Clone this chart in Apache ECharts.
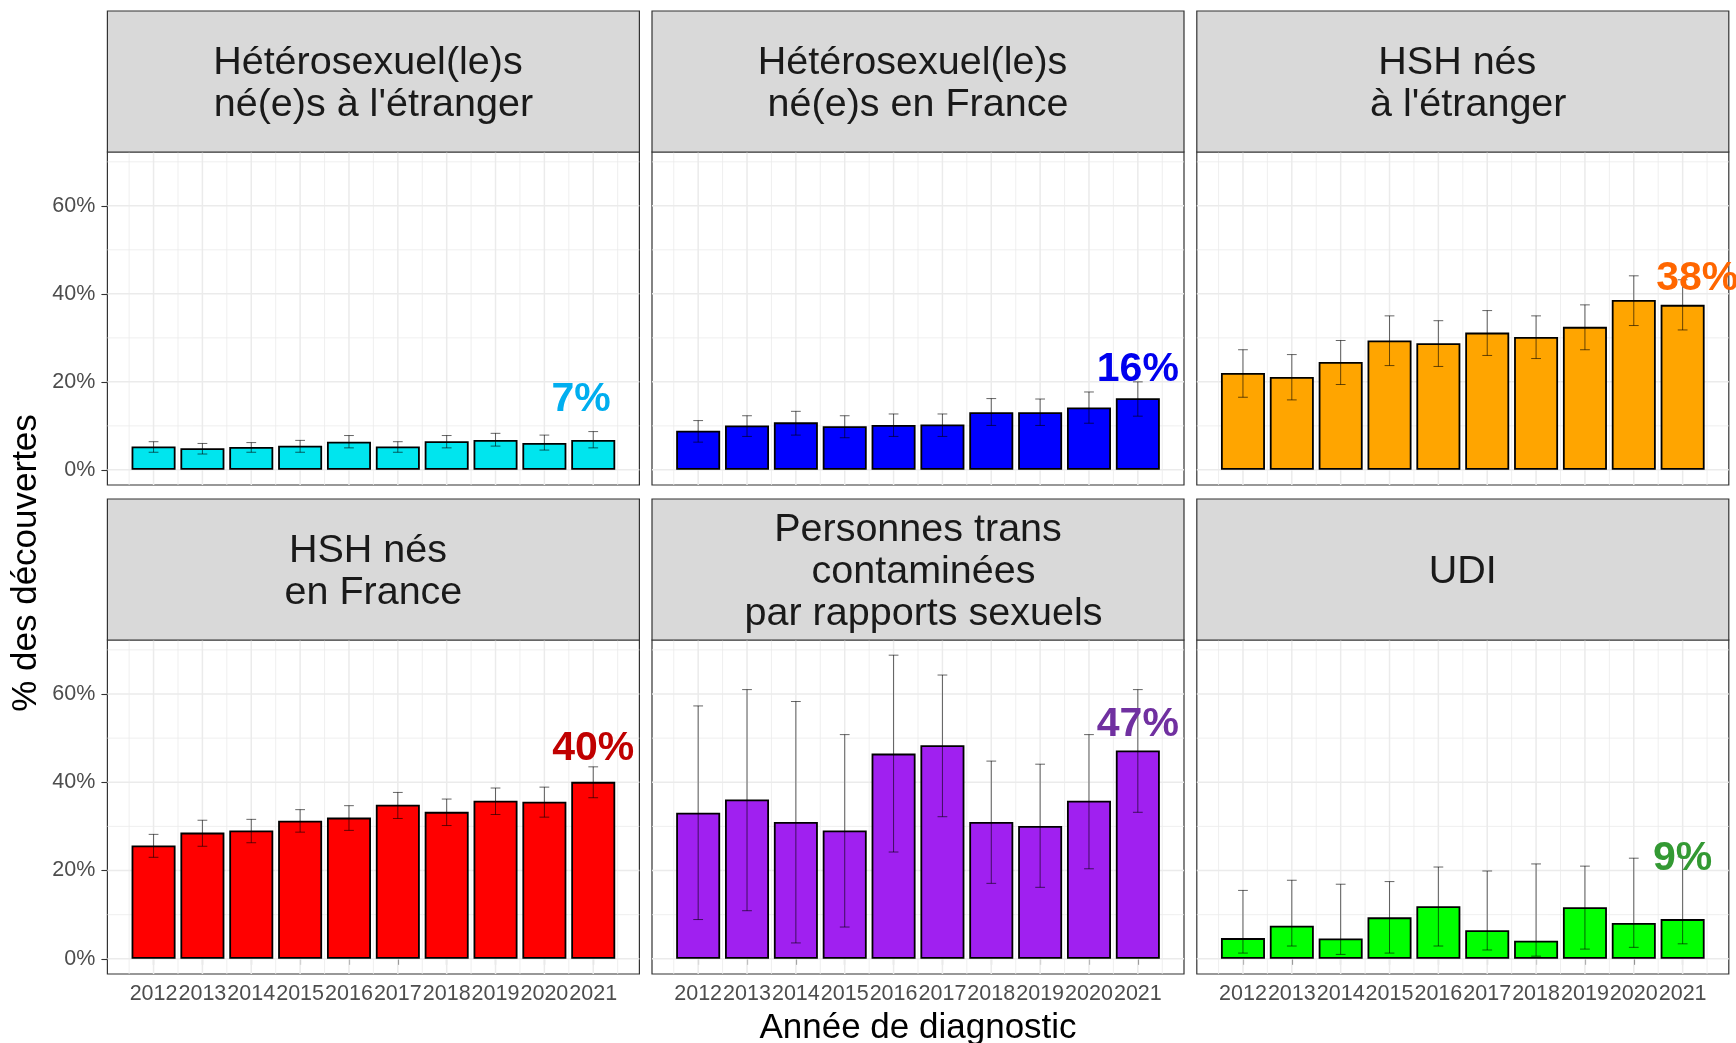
<!DOCTYPE html>
<html>
<head>
<meta charset="utf-8">
<script src="https://cdn.jsdelivr.net/npm/echarts@6/dist/echarts.min.js"></script>
<style>
  html, body { margin: 0; padding: 0; background: #fff; }
  #chart { width: 1736px; height: 1043px; }
</style>
</head>
<body>
<div id="chart"></div>
<script>
// années de diagnostic
const years = [2012, 2013, 2014, 2015, 2016, 2017, 2018, 2019, 2020, 2021];

// titres des facettes
const groups = [
  "Hétérosexuel(le)s \nné(e)s à l'étranger",
  "Hétérosexuel(le)s \nné(e)s en France",
  "HSH nés \n à l'étranger",
  "HSH nés \nen France",
  "Personnes trans\n contaminées\n par rapports sexuels",
  "UDI",
];

// % des découvertes (et IC)
const heteroEtranger = [5.3, 4.9, 5.2, 5.5, 6.4, 5.3, 6.5, 6.8, 6.1, 6.8];
const heteroEtrangerLow = [4.0, 3.6, 4.0, 4.0, 5.0, 4.0, 5.0, 5.4, 4.5, 5.0];
const heteroEtrangerHigh = [6.4, 6.0, 6.2, 6.7, 7.8, 6.4, 7.8, 8.3, 7.9, 8.7];

const heteroFrance = [8.9, 10.1, 10.8, 9.9, 10.2, 10.3, 13.1, 13.1, 14.2, 16.3];
const heteroFranceLow = [6.3, 7.6, 7.9, 7.3, 7.6, 7.6, 10.1, 10.1, 10.6, 12.2];
const heteroFranceHigh = [11.2, 12.3, 13.3, 12.3, 12.7, 12.7, 16.2, 16.1, 17.7, 20.0];

const hshEtranger = [22.0, 21.1, 24.5, 29.4, 28.8, 31.2, 30.2, 32.5, 38.6, 37.5];
const hshEtrangerLow = [16.5, 15.9, 19.4, 23.7, 23.5, 26.0, 25.3, 27.3, 32.8, 31.8];
const hshEtrangerHigh = [27.3, 26.2, 29.4, 35.0, 33.9, 36.2, 35.0, 37.5, 44.1, 43.2];

const hshFrance = [25.7, 28.6, 29.1, 31.3, 32.0, 34.9, 33.3, 35.8, 35.6, 40.1];
const hshFranceLow = [23.0, 25.5, 26.3, 28.7, 29.1, 31.8, 30.2, 32.7, 32.1, 36.5];
const hshFranceHigh = [28.2, 31.4, 31.6, 33.8, 34.7, 37.7, 36.2, 38.7, 38.9, 43.5];

const trans = [33.1, 36.1, 31.0, 29.1, 46.5, 48.4, 31.0, 30.1, 35.8, 47.2];
const transLow = [8.9, 10.9, 3.6, 7.2, 24.2, 32.2, 17.1, 16.2, 20.4, 33.2];
const transHigh = [57.3, 61.0, 58.3, 50.8, 68.8, 64.3, 44.8, 44.1, 50.8, 61.0];

const udi = [4.7, 7.5, 4.6, 9.4, 11.9, 6.5, 4.1, 11.7, 8.1, 9.0];
const udiLow = [1.3, 2.9, 1.0, 1.3, 2.9, 2.0, 0.6, 2.2, 2.6, 3.4];
const udiHigh = [15.5, 17.8, 16.9, 17.5, 20.8, 19.9, 21.5, 21.0, 22.8, 23.1];

// étiquette 2021 de chaque facette
const labelText = ['7%', '16%', '38%', '40%', '47%', '9%'];
const labelYear = [2020.75, 2021, 2021.3, 2021, 2021, 2021];
const labelValue = [15.9, 22.7, 43.4, 47.5, 53.1, 22.7];

// graduations
const yTicks = [0, 20, 40, 60];
const yMinor = [10, 30, 50, 70];
const xMinor = [2011.5, 2012.5, 2013.5, 2014.5, 2015.5, 2016.5, 2017.5, 2018.5, 2019.5, 2020.5, 2021.5];

const values = [heteroEtranger, heteroFrance, hshEtranger, hshFrance, trans, udi];
const lows = [heteroEtrangerLow, heteroFranceLow, hshEtrangerLow, hshFranceLow, transLow, udiLow];
const highs = [heteroEtrangerHigh, heteroFranceHigh, hshEtrangerHigh, hshFranceHigh, transHigh, udiHigh];

const barColors = ['#00E5EE', '#0000FF', '#FFA500', '#FF0000', '#A020F0', '#00FF00'];
const labelColors = ['#00AEEF', '#0000EE', '#FF6600', '#C00000', '#7030A0', '#339933'];

const FONT = '"Liberation Sans", Arial, sans-serif';
const colLeft = [107.4, 652, 1196.8];
const panelW = 532;
const rowTop = [152, 640];
const rowH = [333, 334];
const stripTop = [11, 499];
const stripH = 141;

const chart = echarts.init(document.getElementById('chart'), null, { renderer: 'canvas' });

const grid = [], xAxis = [], yAxis = [], series = [], graphic = [];

groups.forEach((g, i) => {
  const col = i % 3, row = Math.floor(i / 3);
  grid.push({
    left: colLeft[col], top: rowTop[row], width: panelW, height: rowH[row],
    show: true, backgroundColor: '#fff', borderColor: '#333', borderWidth: 1.2,
  });
  xAxis.push({
    type: 'value', gridIndex: i, min: 2011.055, max: 2021.945,
    axisLine: { show: false },
    splitLine: { show: false },
    axisTick: {
      show: row === 1, customValues: years, length: 6,
      lineStyle: { color: '#333', width: 1.1 },
    },
    axisLabel: {
      show: row === 1, customValues: years, margin: 9,
      color: '#4D4D4D', fontSize: 21.5, fontFamily: FONT,
      formatter: v => String(v),
    },
  });
  yAxis.push({
    type: 'value', gridIndex: i, min: -3.44, max: 72.24,
    axisLine: { show: false },
    splitLine: { show: false },
    axisTick: {
      show: col === 0, customValues: yTicks, length: 6,
      lineStyle: { color: '#333', width: 1.1 },
    },
    axisLabel: {
      show: col === 0, customValues: yTicks, margin: 12,
      color: '#4D4D4D', fontSize: 21.5, fontFamily: FONT,
      formatter: v => v + '%',
    },
  });

  // grille (majeure / mineure)
  const lines = [];
  years.forEach(y => lines.push([y, 0, 0]));
  xMinor.forEach(y => lines.push([y, 0, 1]));
  yTicks.forEach(v => lines.push([2016, v, 2]));
  yMinor.forEach(v => lines.push([2016, v, 3]));
  series.push({
    type: 'custom', xAxisIndex: i, yAxisIndex: i, z: 1, silent: true,
    data: lines,
    renderItem: (params, api) => {
      const cs = params.coordSys;
      const kind = api.value(2);
      const major = kind === 0 || kind === 2;
      let shape;
      if (kind < 2) {
        const p = api.coord([api.value(0), 0]);
        shape = { x1: p[0], y1: cs.y, x2: p[0], y2: cs.y + cs.height };
      } else {
        const p = api.coord([2016, api.value(1)]);
        shape = { x1: cs.x, y1: p[1], x2: cs.x + cs.width, y2: p[1] };
      }
      return {
        type: 'line', shape,
        style: { stroke: '#EBEBEB', lineWidth: major ? 1.5 : 0.8 },
      };
    },
  });

  series.push({
    type: 'bar', xAxisIndex: i, yAxisIndex: i, z: 2,
    barWidth: 44,
    data: years.map((y, k) => [y, values[i][k]]),
    itemStyle: { color: barColors[i], borderColor: '#000', borderWidth: 1.8 },
  });

  series.push({
    type: 'custom', xAxisIndex: i, yAxisIndex: i, z: 3, silent: true,
    data: years.map((y, k) => [y, lows[i][k], highs[i][k]]),
    renderItem: (params, api) => {
      const x = api.value(0);
      const lo = api.coord([x, api.value(1)]);
      const hi = api.coord([x, api.value(2)]);
      const half = api.size([0.1, 0])[0];
      const style = { stroke: 'rgba(0,0,0,0.6)', lineWidth: 1 };
      return {
        type: 'group',
        children: [
          { type: 'line', shape: { x1: lo[0], y1: lo[1], x2: hi[0], y2: hi[1] }, style },
          { type: 'line', shape: { x1: hi[0] - half, y1: hi[1], x2: hi[0] + half, y2: hi[1] }, style },
          { type: 'line', shape: { x1: lo[0] - half, y1: lo[1], x2: lo[0] + half, y2: lo[1] }, style },
        ],
      };
    },
  });

  series.push({
    type: 'custom', xAxisIndex: i, yAxisIndex: i, z: 4, silent: true,
    clip: false,
    data: [[labelYear[i], labelValue[i]]],
    renderItem: (params, api) => {
      const p = api.coord([api.value(0), api.value(1)]);
      return {
        type: 'text', x: p[0], y: p[1],
        style: {
          text: labelText[i], fill: labelColors[i],
          font: 'bold 41px ' + FONT, align: 'center', verticalAlign: 'middle',
        },
      };
    },
  });

  // bandeau de facette
  graphic.push({
    type: 'rect', z: 10,
    shape: { x: colLeft[col], y: stripTop[row], width: panelW, height: stripH },
    style: { fill: '#D9D9D9', stroke: '#333', lineWidth: 1.2 },
  });
  graphic.push({
    type: 'text', z: 11,
    x: colLeft[col] + panelW / 2, y: stripTop[row] + stripH / 2 + 3,
    style: {
      text: g, fill: '#1A1A1A', font: '39.5px ' + FONT, lineHeight: 42,
      align: 'center', verticalAlign: 'middle',
    },
  });
});

graphic.push({
  type: 'text', z: 11, x: colLeft[1] + panelW / 2, y: 1028,
  style: {
    text: 'Année de diagnostic', fill: '#000', font: '35px ' + FONT,
    align: 'center', verticalAlign: 'middle',
  },
});
graphic.push({
  type: 'text', z: 11, x: 26, y: 563, rotation: Math.PI / 2,
  style: {
    text: '% des découvertes', fill: '#000', font: '35px ' + FONT,
    align: 'center', verticalAlign: 'middle',
  },
});

chart.setOption({
  animation: false,
  backgroundColor: '#fff',
  grid, xAxis, yAxis, series, graphic,
});
</script>
</body>
</html>
